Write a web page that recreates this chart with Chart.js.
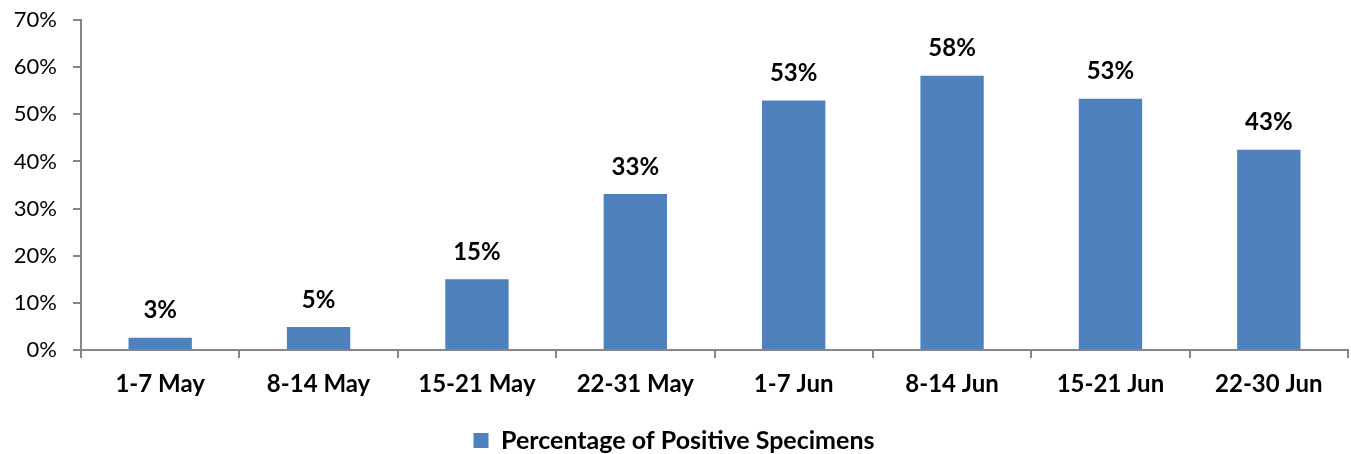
<!DOCTYPE html>
<html>
<head>
<meta charset="utf-8">
<script src="https://cdn.jsdelivr.net/npm/chart.js@4"></script>
<style>
  html, body { margin: 0; padding: 0; background: #fff; }
  #wrap { width: 1351px; height: 454px; }
</style>
</head>
<body>
<div id="wrap"><canvas id="chart"></canvas></div>
<script>
const weeks = ["1-7 May", "8-14 May", "15-21 May", "22-31 May", "1-7 Jun", "8-14 Jun", "15-21 Jun", "22-30 Jun"];
const positivePct = [2.6, 4.9, 15.0, 33.1, 52.9, 58.2, 53.3, 42.5];
const pctLabels = ["3%", "5%", "15%", "33%", "53%", "58%", "53%", "43%"];
const yTicks = [0, 10, 20, 30, 40, 50, 60, 70];

const fontFamily = "Lato, 'Open Sans', sans-serif";
const axisGrey = "#868686";

// draws the bold value above each bar
const valueLabels = {
    id: "valueLabels",
    afterDatasetsDraw(chart) {
        const ctx = chart.ctx;
        const meta = chart.getDatasetMeta(0);
        ctx.save();
        ctx.font = "bold 24px " + fontFamily;
        ctx.fillStyle = "#000";
        ctx.textAlign = "center";
        ctx.textBaseline = "middle";
        meta.data.forEach((bar, i) => {
            ctx.fillText(pctLabels[i], bar.x, bar.y - 27);
        });
        ctx.restore();
    }
};

new Chart(document.getElementById("chart").getContext("2d"), {
    type: "bar",
    data: {
        labels: weeks,
        datasets: [{
            label: "Percentage of Positive Specimens",
            data: positivePct,
            backgroundColor: "#4F81BD",
            borderWidth: 0,
            barPercentage: 0.8,
            categoryPercentage: 0.5,
        }],
    },
    options: {
        responsive: true,
        maintainAspectRatio: false,
        animation: false,
        layout: { padding: { top: 20, right: 3, left: 0, bottom: -9 } },
        plugins: {
            tooltip: { enabled: false },
            legend: {
                position: "bottom",
                labels: {
                    color: "#000",
                    font: { family: fontFamily, size: 25, weight: "bold" },
                    boxWidth: 15,
                    boxHeight: 15,
                    padding: 0,
                },
            },
        },
        scales: {
            x: {
                afterFit: (s) => {
                    s.height = 78;
                    s.paddingLeft = 0;
                    s.paddingRight = 0;
                },
                grid: {
                    offset: true,
                    drawOnChartArea: false,
                    drawTicks: true,
                    tickLength: 8,
                    color: axisGrey,
                    lineWidth: 2,
                },
                border: { color: axisGrey, width: 2 },
                ticks: {
                    color: "#000",
                    padding: 12,
                    font: { family: fontFamily, size: 24, weight: "bold" },
                    maxRotation: 0,
                },
            },
            y: {
                min: 0,
                max: 70,
                afterFit: (s) => {
                    s.width = 81;
                    s.paddingTop = 0;
                    s.paddingBottom = 0;
                },
                afterBuildTicks: (s) => { s.ticks = yTicks.map((v) => ({ value: v })); },
                grid: {
                    drawOnChartArea: false,
                    drawTicks: true,
                    tickLength: 8,
                    color: axisGrey,
                    lineWidth: 2,
                },
                border: { color: axisGrey, width: 2 },
                ticks: {
                    color: "#000",
                    padding: 16,
                    font: { family: fontFamily, size: 22 },
                    callback: (v) => v + "%",
                },
            },
        },
    },
    plugins: [valueLabels],
});
</script>
</body>
</html>
